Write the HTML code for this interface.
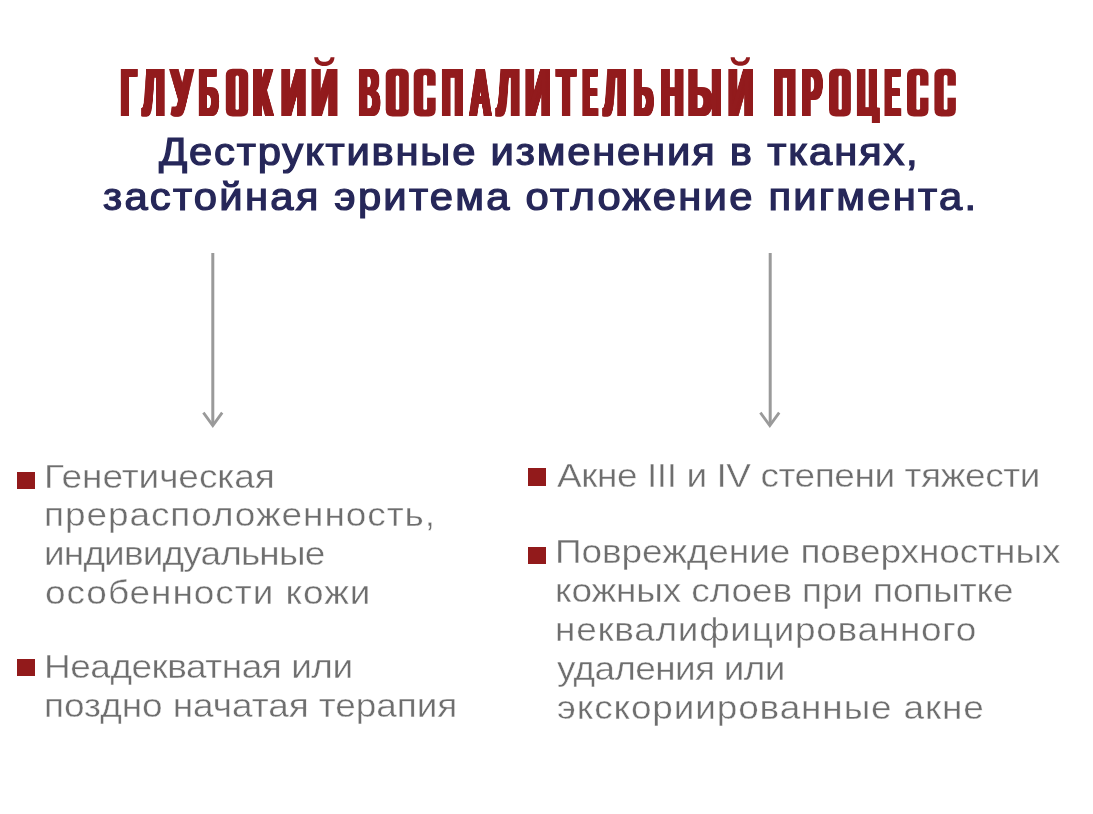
<!DOCTYPE html>
<html><head><meta charset="utf-8"><style>
html,body{margin:0;padding:0;background:#fff;}
body{width:1093px;height:814px;position:relative;overflow:hidden;font-family:"Liberation Sans", sans-serif;}
.t,.tt,.st,.bt{position:absolute;white-space:nowrap;transform-origin:0 0;will-change:transform;}
.tt{font-size:69px;line-height:69px;font-weight:bold;color:#921b1d;}
.st{font-size:38px;line-height:38px;font-weight:normal;color:#262759;-webkit-text-stroke:1.20px #262759;}
.bt{font-size:33px;line-height:33px;font-weight:normal;color:#6e6e6e;-webkit-text-stroke:0.40px #ffffff;}
.b{position:absolute;background:#921a1b;}
.arr{position:absolute;left:0;top:0;}
.clip{position:absolute;left:0;top:0;width:1093px;height:122.5px;overflow:hidden;}
</style></head><body>
<svg class="arr" width="1093" height="814" viewBox="0 0 1093 814">
<g stroke="#9a9a9a" fill="none" stroke-linecap="butt">
<line x1="212.8" y1="253" x2="212.8" y2="424" stroke-width="3"/>
<polyline points="203.4,412.6 212.8,425.6 222.2,412.6" stroke-width="2.8"/>
<line x1="770.2" y1="253" x2="770.2" y2="424" stroke-width="3"/>
<polyline points="760.4,412.6 769.8,425.6 779.2,412.6" stroke-width="2.8"/>
</g>
<g fill="#921b1d">
<path d="M314.2,57.2 C314.4,63.2 318.8,66 324.3,66 C329.8,66 334.3,63.2 334.5,57.2 L330.6,57.2 C330.2,60.2 327.6,61.8 324.3,61.8 C321,61.8 318.4,60.2 318.1,57.2 Z"/>
<path d="M730.6,57.2 C730.8,63.2 735.2,65.8 740.4,65.8 C745.6,65.8 749.8,63.2 750.0,57.2 L746.2,57.2 C745.8,60.2 743.4,61.6 740.4,61.6 C737.4,61.6 735,60.2 734.6,57.2 Z"/>
</g><g><path fill="#921b1d" d="M232.80,68.80 H241.20 Q248.20,68.80 248.20,75.80 V109.40 Q248.20,116.40 241.20,116.40 H232.80 Q225.80,116.40 225.80,109.40 V75.80 Q225.80,68.80 232.80,68.80 Z"/><path fill="#fff" d="M237.14,75.50 H237.30 Q238.90,75.50 238.90,77.10 V108.20 Q238.90,109.80 237.30,109.80 H237.14 Q235.54,109.80 235.54,108.20 V77.10 Q235.54,75.50 237.14,75.50 Z"/><path fill="#921b1d" d="M392.70,68.80 H401.80 Q408.80,68.80 408.80,75.80 V109.40 Q408.80,116.40 401.80,116.40 H392.70 Q385.70,116.40 385.70,109.40 V75.80 Q385.70,68.80 392.70,68.80 Z"/><path fill="#fff" d="M397.35,75.50 H397.61 Q399.21,75.50 399.21,77.10 V108.20 Q399.21,109.80 397.61,109.80 H397.35 Q395.75,109.80 395.75,108.20 V77.10 Q395.75,75.50 397.35,75.50 Z"/><path fill="#921b1d" d="M420.70,68.80 H428.70 Q435.70,68.80 435.70,75.80 V109.40 Q435.70,116.40 428.70,116.40 H420.70 Q413.70,116.40 413.70,109.40 V75.80 Q413.70,68.80 420.70,68.80 Z"/><path fill="#fff" d="M424.87,75.10 H425.47 Q427.07,75.10 427.07,76.70 V108.20 Q427.07,109.80 425.47,109.80 H424.87 Q423.27,109.80 423.27,108.20 V76.70 Q423.27,75.10 424.87,75.10 Z"/><rect fill="#fff" x="424.87" y="85.60" width="12.43" height="12.10"/><path fill="#921b1d" d="M836.00,68.80 H843.90 Q850.90,68.80 850.90,75.80 V109.40 Q850.90,116.40 843.90,116.40 H836.00 Q829.00,116.40 829.00,109.40 V75.80 Q829.00,68.80 836.00,68.80 Z"/><path fill="#fff" d="M840.13,75.50 H840.21 Q841.81,75.50 841.81,77.10 V108.20 Q841.81,109.80 840.21,109.80 H840.13 Q838.53,109.80 838.53,108.20 V77.10 Q838.53,75.50 840.13,75.50 Z"/><path fill="#921b1d" d="M914.00,68.80 H921.50 Q928.50,68.80 928.50,75.80 V109.40 Q928.50,116.40 921.50,116.40 H914.00 Q907.00,116.40 907.00,109.40 V75.80 Q907.00,68.80 914.00,68.80 Z"/><path fill="#fff" d="M917.95,75.10 H918.48 Q920.08,75.10 920.08,76.70 V108.20 Q920.08,109.80 918.48,109.80 H917.95 Q916.35,109.80 916.35,108.20 V76.70 Q916.35,75.10 917.95,75.10 Z"/><rect fill="#fff" x="917.95" y="85.60" width="12.15" height="12.10"/><path fill="#921b1d" d="M941.40,68.80 H948.90 Q955.90,68.80 955.90,75.80 V109.40 Q955.90,116.40 948.90,116.40 H941.40 Q934.40,116.40 934.40,109.40 V75.80 Q934.40,68.80 941.40,68.80 Z"/><path fill="#fff" d="M945.35,75.10 H945.88 Q947.48,75.10 947.48,76.70 V108.20 Q947.48,109.80 945.88,109.80 H945.35 Q943.75,109.80 943.75,108.20 V76.70 Q943.75,75.10 945.35,75.10 Z"/><rect fill="#fff" x="945.35" y="85.60" width="12.15" height="12.10"/></g></svg>
<div class="clip"><div class="tt" style="left:119.29px;top:58.30px;letter-spacing:0.000px;transform:scaleX(0.3765);text-shadow:2.39px 0 0 #921b1d,4.78px 0 0 #921b1d,7.17px 0 0 #921b1d,9.56px 0 0 #921b1d,11.95px 0 0 #921b1d">Г</div><div class="tt" style="left:141.30px;top:58.30px;letter-spacing:0.000px;transform:scaleX(0.4364);text-shadow:2.06px 0 0 #921b1d,4.13px 0 0 #921b1d,6.19px 0 0 #921b1d,8.25px 0 0 #921b1d,10.31px 0 0 #921b1d">Л</div><div class="tt" style="left:169.40px;top:58.30px;letter-spacing:0.000px;transform:scaleX(0.4795);text-shadow:1.88px 0 0 #921b1d,3.75px 0 0 #921b1d,5.63px 0 0 #921b1d,7.51px 0 0 #921b1d,9.38px 0 0 #921b1d">У</div><div class="tt" style="left:196.79px;top:58.30px;letter-spacing:0.000px;transform:scaleX(0.3773);text-shadow:2.39px 0 0 #921b1d,4.77px 0 0 #921b1d,7.16px 0 0 #921b1d,9.54px 0 0 #921b1d,11.93px 0 0 #921b1d">Б</div><div class="tt" style="left:251.42px;top:58.30px;letter-spacing:0.000px;transform:scaleX(0.4462);text-shadow:2.02px 0 0 #921b1d,4.03px 0 0 #921b1d,6.05px 0 0 #921b1d,8.07px 0 0 #921b1d,10.09px 0 0 #921b1d">К</div><div class="tt" style="left:279.23px;top:58.30px;letter-spacing:0.000px;transform:scaleX(0.4927);text-shadow:1.83px 0 0 #921b1d,3.65px 0 0 #921b1d,5.48px 0 0 #921b1d,7.31px 0 0 #921b1d,9.13px 0 0 #921b1d">И</div><div class="tt" style="left:309.27px;top:58.30px;letter-spacing:0.000px;transform:scaleX(0.5317);text-shadow:1.69px 0 0 #921b1d,3.39px 0 0 #921b1d,5.08px 0 0 #921b1d,6.77px 0 0 #921b1d,8.46px 0 0 #921b1d">И</div><div class="tt" style="left:357.17px;top:58.30px;letter-spacing:0.000px;transform:scaleX(0.4070);text-shadow:2.21px 0 0 #921b1d,4.42px 0 0 #921b1d,6.63px 0 0 #921b1d,8.85px 0 0 #921b1d,11.06px 0 0 #921b1d">В</div><div class="tt" style="left:440.05px;top:58.30px;letter-spacing:0.000px;transform:scaleX(0.4122);text-shadow:2.18px 0 0 #921b1d,4.37px 0 0 #921b1d,6.55px 0 0 #921b1d,8.73px 0 0 #921b1d,10.92px 0 0 #921b1d">П</div><div class="tt" style="left:467.89px;top:58.30px;letter-spacing:0.000px;transform:scaleX(0.4083);text-shadow:2.20px 0 0 #921b1d,4.41px 0 0 #921b1d,6.61px 0 0 #921b1d,8.82px 0 0 #921b1d,11.02px 0 0 #921b1d">А</div><div class="tt" style="left:495.20px;top:58.30px;letter-spacing:0.000px;transform:scaleX(0.4591);text-shadow:1.96px 0 0 #921b1d,3.92px 0 0 #921b1d,5.88px 0 0 #921b1d,7.84px 0 0 #921b1d,9.80px 0 0 #921b1d">Л</div><div class="tt" style="left:522.77px;top:58.30px;letter-spacing:0.000px;transform:scaleX(0.5073);text-shadow:1.77px 0 0 #921b1d,3.55px 0 0 #921b1d,5.32px 0 0 #921b1d,7.10px 0 0 #921b1d,8.87px 0 0 #921b1d">И</div><div class="tt" style="left:555.00px;top:58.30px;letter-spacing:0.000px;transform:scaleX(0.4167);text-shadow:2.16px 0 0 #921b1d,4.32px 0 0 #921b1d,6.48px 0 0 #921b1d,8.64px 0 0 #921b1d,10.80px 0 0 #921b1d">Т</div><div class="tt" style="left:580.90px;top:58.30px;letter-spacing:0.000px;transform:scaleX(0.3000);text-shadow:3.00px 0 0 #921b1d,6.00px 0 0 #921b1d,9.00px 0 0 #921b1d,12.00px 0 0 #921b1d,15.00px 0 0 #921b1d">Е</div><div class="tt" style="left:602.40px;top:58.30px;letter-spacing:0.000px;transform:scaleX(0.4477);text-shadow:2.01px 0 0 #921b1d,4.02px 0 0 #921b1d,6.03px 0 0 #921b1d,8.04px 0 0 #921b1d,10.05px 0 0 #921b1d">Л</div><div class="tt" style="left:631.72px;top:58.30px;letter-spacing:0.000px;transform:scaleX(0.3705);text-shadow:2.43px 0 0 #921b1d,4.86px 0 0 #921b1d,7.29px 0 0 #921b1d,9.72px 0 0 #921b1d,12.15px 0 0 #921b1d">Ь</div><div class="tt" style="left:658.83px;top:58.30px;letter-spacing:0.000px;transform:scaleX(0.4429);text-shadow:2.03px 0 0 #921b1d,4.06px 0 0 #921b1d,6.10px 0 0 #921b1d,8.13px 0 0 #921b1d,10.16px 0 0 #921b1d">Н</div><div class="tt" style="left:686.27px;top:58.30px;letter-spacing:0.000px;transform:scaleX(0.4831);text-shadow:1.86px 0 0 #921b1d,3.73px 0 0 #921b1d,5.59px 0 0 #921b1d,7.45px 0 0 #921b1d,9.32px 0 0 #921b1d">Ы</div><div class="tt" style="left:725.78px;top:58.30px;letter-spacing:0.000px;transform:scaleX(0.5049);text-shadow:1.78px 0 0 #921b1d,3.57px 0 0 #921b1d,5.35px 0 0 #921b1d,7.13px 0 0 #921b1d,8.91px 0 0 #921b1d">И</div><div class="tt" style="left:772.20px;top:58.30px;letter-spacing:0.000px;transform:scaleX(0.4244);text-shadow:2.12px 0 0 #921b1d,4.24px 0 0 #921b1d,6.36px 0 0 #921b1d,8.48px 0 0 #921b1d,10.60px 0 0 #921b1d">П</div><div class="tt" style="left:799.81px;top:58.30px;letter-spacing:0.000px;transform:scaleX(0.4225);text-shadow:2.13px 0 0 #921b1d,4.26px 0 0 #921b1d,6.39px 0 0 #921b1d,8.52px 0 0 #921b1d,10.65px 0 0 #921b1d">Р</div><div class="tt" style="left:854.78px;top:58.30px;letter-spacing:0.000px;transform:scaleX(0.4043);text-shadow:2.23px 0 0 #921b1d,4.45px 0 0 #921b1d,6.68px 0 0 #921b1d,8.90px 0 0 #921b1d,11.13px 0 0 #921b1d">Ц</div><div class="tt" style="left:882.92px;top:58.30px;letter-spacing:0.000px;transform:scaleX(0.3200);text-shadow:2.81px 0 0 #921b1d,5.63px 0 0 #921b1d,8.44px 0 0 #921b1d,11.25px 0 0 #921b1d,14.06px 0 0 #921b1d">Е</div></div>
<div class="st" style="left:159.46px;top:132.90px;letter-spacing:1.614px;transform:scaleX(1.1000)">Деструктивные изменения в тканях,</div>
<div class="st" style="left:103.06px;top:178.40px;letter-spacing:2.017px;transform:scaleX(1.1000)">застойная эритема отложение пигмента.</div>
<div class="bt" style="left:44.34px;top:459.50px;letter-spacing:-0.038px;transform:scaleX(1.1200)">Генетическая</div>
<div class="bt" style="left:44.34px;top:498.40px;letter-spacing:0.835px;transform:scaleX(1.1200)">прерасположенность,</div>
<div class="bt" style="left:44.34px;top:537.40px;letter-spacing:-0.748px;transform:scaleX(1.1200)">индивидуальные</div>
<div class="bt" style="left:45.46px;top:576.40px;letter-spacing:0.855px;transform:scaleX(1.1200)">особенности кожи</div>
<div class="bt" style="left:44.34px;top:649.80px;letter-spacing:-0.417px;transform:scaleX(1.1200)">Неадекватная или</div>
<div class="bt" style="left:44.34px;top:688.80px;letter-spacing:-0.045px;transform:scaleX(1.1200)">поздно начатая терапия</div>
<div class="bt" style="left:557.08px;top:459.40px;letter-spacing:-0.370px;transform:scaleX(1.1200)">Акне III и IV степени тяжести</div>
<div class="bt" style="left:554.84px;top:535.00px;letter-spacing:-0.057px;transform:scaleX(1.1200)">Повреждение поверхностных</div>
<div class="bt" style="left:554.84px;top:573.80px;letter-spacing:-0.111px;transform:scaleX(1.1200)">кожных слоев при попытке</div>
<div class="bt" style="left:554.84px;top:613.00px;letter-spacing:0.650px;transform:scaleX(1.1200)">неквалифицированного</div>
<div class="bt" style="left:557.08px;top:652.20px;letter-spacing:-0.596px;transform:scaleX(1.1200)">удаления или</div>
<div class="bt" style="left:557.08px;top:691.40px;letter-spacing:0.766px;transform:scaleX(1.1200)">экскориированные акне</div>
<div class="b" style="left:17.1px;top:471.8px;width:17.5px;height:16.9px"></div>
<div class="b" style="left:17.1px;top:659.0px;width:17.5px;height:17.0px"></div>
<div class="b" style="left:528.2px;top:468.4px;width:17.4px;height:17.4px"></div>
<div class="b" style="left:528.3px;top:547.3px;width:17.3px;height:16.9px"></div>
</body></html>
